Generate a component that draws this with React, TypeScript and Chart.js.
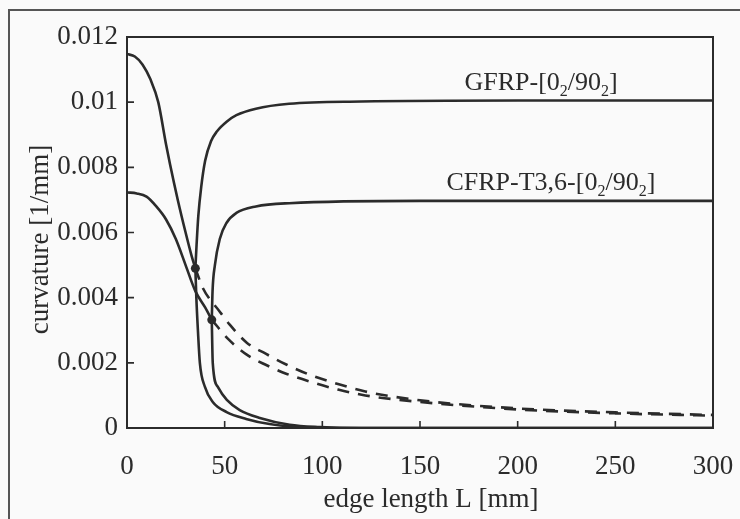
import React, { useEffect, useRef } from "react";
import { Chart, registerables } from "chart.js";

Chart.register(...registerables);

// ---- data (edge length L [mm], curvature [1/mm]) ----
const gfrpUpperL = [0, 4, 8, 12, 16, 20, 22, 26, 30, 33, 35];
const gfrpUpperK = [0.01148, 0.0114, 0.01115, 0.0107, 0.01, 0.0087, 0.0081, 0.007, 0.006, 0.0053, 0.0049];
const gfrpRiseL = [35, 35.6, 36.5, 38, 40, 43, 46, 51, 56, 66, 83, 120, 200, 300];
const gfrpRiseK = [0.0049, 0.0056, 0.0065, 0.0074, 0.0082, 0.0088, 0.0091, 0.0094, 0.0096, 0.0098, 0.00995, 0.01002, 0.01005, 0.01005];
const gfrpFallL = [35, 35.5, 36.3, 37.3, 39.9, 43.9, 51, 61, 73, 87, 110, 300];
const gfrpFallK = [0.0049, 0.004, 0.003, 0.002, 0.00126, 0.0008, 0.00049, 0.00028, 0.00012, 0.00003, 0, 0];
const gfrpUnstL = [35, 38.8, 47.5, 52.6, 61.3, 71, 81.8, 95, 108, 122, 150, 200, 250, 300];
const gfrpUnstK = [0.0049, 0.0043, 0.00357, 0.00317, 0.00262, 0.00228, 0.00194, 0.0016, 0.00135, 0.00112, 0.00085, 0.0006, 0.00048, 0.0004];

const cfrpUpperL = [0, 5, 10, 15, 20, 25, 30, 35, 40, 43.4];
const cfrpUpperK = [0.00723, 0.0072, 0.0071, 0.0068, 0.0064, 0.0058, 0.005, 0.0042, 0.0037, 0.00332];
const cfrpRiseL = [43.4, 43.8, 45, 47.5, 51, 56, 66, 83, 150, 300];
const cfrpRiseK = [0.00332, 0.0042, 0.005, 0.0058, 0.0063, 0.0066, 0.0068, 0.0069, 0.00697, 0.00697];
const cfrpFallL = [43.4, 43.5, 43.9, 46.5, 51.1, 57.7, 68, 83.3, 98.6, 120, 300];
const cfrpFallK = [0.00332, 0.003, 0.002, 0.00126, 0.00086, 0.00055, 0.00031, 0.0001, 0.00003, 0, 0];
const cfrpUnstL = [43.4, 52, 61.3, 71, 81.8, 95, 108, 122, 150, 200, 250, 300];
const cfrpUnstK = [0.00332, 0.00272, 0.00225, 0.00194, 0.00166, 0.0014, 0.00118, 0.001, 0.0008, 0.00057, 0.00045, 0.00038];

const bifurcationL = [35, 43.4];
const bifurcationK = [0.0049, 0.00332];

const xTicks = [0, 50, 100, 150, 200, 250, 300];
const yTicks = [0, 0.002, 0.004, 0.006, 0.008, 0.01, 0.012];

const xTitle = "edge length L [mm]";
const yTitle = "curvature [1/mm]";

// label parts: [text, isSubscript]
const gfrpLabel: [string, boolean][] = [["GFRP-[0", false], ["2", true], ["/90", false], ["2", true], ["]", false]];
const cfrpLabel: [string, boolean][] = [["CFRP-T3,6-[0", false], ["2", true], ["/90", false], ["2", true], ["]", false]];
const gfrpLabelAt = [212, 0.01037];
const cfrpLabelAt = [217, 0.00729];

const FONT = "'Liberation Serif', 'Times New Roman', serif";
const INK = "#2b2b2b";

const zip = (xs: number[], ys: number[]) => xs.map((x, i) => ({ x, y: ys[i] }));

function drawParts(ctx: CanvasRenderingContext2D, parts: [string, boolean][], cx: number, baseY: number, size: number) {
  const main = `${size}px ${FONT}`;
  const sub = `${Math.round(size * 0.62)}px ${FONT}`;
  let total = 0;
  for (const [t, s] of parts) {
    ctx.font = s ? sub : main;
    total += ctx.measureText(t).width;
  }
  let x = cx - total / 2;
  ctx.textAlign = "left";
  ctx.textBaseline = "alphabetic";
  for (const [t, s] of parts) {
    ctx.font = s ? sub : main;
    ctx.fillText(t, x, baseY + (s ? size * 0.22 : 0));
    x += ctx.measureText(t).width;
  }
}

const decor = {
  id: "decor",
  beforeDatasetsDraw(chart: any) {
    const { ctx, chartArea: a, scales } = chart;
    ctx.save();
    ctx.strokeStyle = INK;
    ctx.lineWidth = 2;
    ctx.strokeRect(a.left, a.top, a.right - a.left, a.bottom - a.top);
    ctx.lineWidth = 1.6;
    ctx.beginPath();
    for (const v of xTicks.slice(1, -1)) {
      const px = scales.x.getPixelForValue(v);
      ctx.moveTo(px, a.bottom);
      ctx.lineTo(px, a.bottom - 7);
    }
    for (const v of yTicks.slice(1, -1)) {
      const py = scales.y.getPixelForValue(v);
      ctx.moveTo(a.left, py);
      ctx.lineTo(a.left + 7, py);
    }
    ctx.stroke();
    ctx.restore();
  },
  afterDraw(chart: any) {
    const { ctx, chartArea: a, scales } = chart;
    ctx.save();
    ctx.fillStyle = INK;
    drawParts(ctx, gfrpLabel, scales.x.getPixelForValue(gfrpLabelAt[0]), scales.y.getPixelForValue(gfrpLabelAt[1]), 26);
    drawParts(ctx, cfrpLabel, scales.x.getPixelForValue(cfrpLabelAt[0]), scales.y.getPixelForValue(cfrpLabelAt[1]), 26);
    ctx.font = `27px ${FONT}`;
    ctx.textAlign = "center";
    ctx.textBaseline = "middle";
    ctx.fillText(xTitle, (a.left + a.right) / 2 + 11, 500);
    ctx.translate(41, (a.top + a.bottom) / 2 + 7);
    ctx.rotate(-Math.PI / 2);
    ctx.fillText(yTitle, 0, 0);
    ctx.restore();
  },
};

export default function App() {
  const ref = useRef<HTMLCanvasElement | null>(null);
  useEffect(() => {
    document.body.style.margin = "0";
    if (!ref.current) return;
    const solid = (data: any[]) => ({
      data,
      showLine: true,
      borderColor: INK,
      borderWidth: 2.6,
      pointRadius: 0,
      cubicInterpolationMode: "monotone" as const,
      fill: false,
    });
    const dashed = (data: any[]) => ({ ...solid(data), borderDash: [12, 9] });
    const chart = new Chart(ref.current, {
      type: "scatter",
      data: {
        datasets: [
          solid(zip(gfrpUpperL, gfrpUpperK)),
          solid(zip(gfrpRiseL, gfrpRiseK)),
          solid(zip(gfrpFallL, gfrpFallK)),
          dashed(zip(gfrpUnstL, gfrpUnstK)),
          solid(zip(cfrpUpperL, cfrpUpperK)),
          solid(zip(cfrpRiseL, cfrpRiseK)),
          solid(zip(cfrpFallL, cfrpFallK)),
          dashed(zip(cfrpUnstL, cfrpUnstK)),
          {
            data: zip(bifurcationL, bifurcationK),
            showLine: false,
            pointRadius: 4.5,
            pointBackgroundColor: INK,
            pointBorderColor: INK,
            borderWidth: 0,
          },
        ],
      },
      options: {
        animation: false,
        responsive: false,
        devicePixelRatio: 1,
        layout: { padding: { left: 0, top: 37, right: 27, bottom: 0 } },
        plugins: { legend: { display: false }, tooltip: { enabled: false } },
        scales: {
          x: {
            type: "linear",
            min: 0,
            max: 300,
            grid: { display: false, drawTicks: false },
            border: { display: false },
            afterBuildTicks: (s: any) => { s.ticks = xTicks.map((v) => ({ value: v })); },
            afterFit: (s: any) => { s.height = 91; s.paddingLeft = 0; s.paddingRight = 0; },
            ticks: { padding: 23, color: INK, font: { family: FONT, size: 27 }, callback: (v: any) => String(v) },
          },
          y: {
            type: "linear",
            min: 0,
            max: 0.012,
            grid: { display: false, drawTicks: false },
            border: { display: false },
            afterBuildTicks: (s: any) => { s.ticks = yTicks.map((v) => ({ value: v })); },
            afterFit: (s: any) => { s.width = 127; s.paddingTop = 0; s.paddingBottom = 0; },
            ticks: { padding: 9, color: INK, font: { family: FONT, size: 27 }, callback: (v: any) => String(Number(Number(v).toFixed(3))) },
          },
        },
      },
      plugins: [decor],
    } as any);
    return () => chart.destroy();
  }, []);
  return (
    <div style={{ position: "relative", width: 740, height: 519, background: "#fafafa", overflow: "hidden" }}>
      <div style={{ position: "absolute", left: 8, top: 9, right: -10, bottom: -10, borderTop: "2px solid #555", borderLeft: "2px solid #555" }} />
      <canvas ref={ref} width={740} height={519} style={{ position: "absolute", left: 0, top: 0 }} />
    </div>
  );
}
